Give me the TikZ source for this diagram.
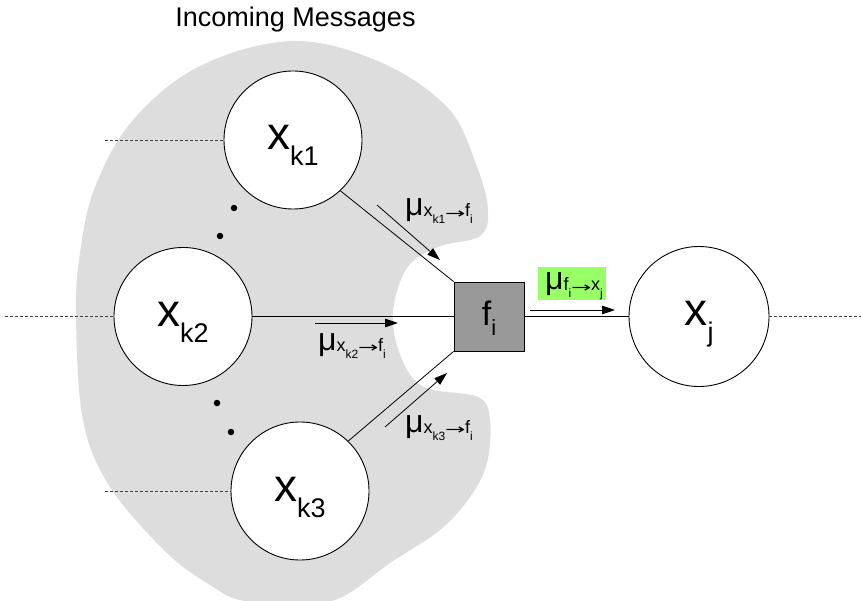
\documentclass[tikz,border=0pt]{standalone}
\usepackage{fontspec}
\setmainfont{Liberation Sans}
\newfontfamily\arrowfont{DejaVu Sans}
\usetikzlibrary{arrows.meta}
\definecolor{blobgray}{RGB}{221,221,221}
\definecolor{factorgray}{RGB}{153,153,153}
\definecolor{msggreen}{RGB}{153,255,102}
% text at a given size in pt
\newcommand\fs[2]{{\fontsize{#1}{#1}\selectfont #2}}
% variable label: large x with a lowered index
\newcommand\varlabel[1]{\fs{46}{x}\raisebox{-16pt}{\fs{27}{#1}}}
% long thin arrow between indices
\newcommand\idxarrow{\kern-0.3pt\raisebox{-2.5pt}{\scalebox{1.35}[0.8]{\fs{18}{\arrowfont →}}}\kern-0.3pt}
% message label: mu with source -> target indices
\newcommand\msglabel[4]{\fs{32}{μ}\raisebox{-1pt}{\fs{18}{#1}}\raisebox{-8pt}{\fs{12}{#2}}\idxarrow\raisebox{-1pt}{\fs{18}{#3}}\raisebox{-8pt}{\fs{12}{#4}}}
\begin{document}
\begin{tikzpicture}[x=1pt,y=-1pt,
  varnode/.style={circle, draw, line width=0.9pt, fill=white, inner sep=0pt, minimum size=138pt},
  factornode/.style={rectangle, draw, line width=0.9pt, fill=factorgray, inner sep=0pt, minimum width=70pt, minimum height=69pt},
  link/.style={line width=0.8pt},
  msgarrow/.style={line width=0.8pt, -{Triangle[length=13pt,width=8.5pt]}},
  extend/.style={black!75, line width=0.8pt, dash pattern=on 3pt off 2pt},
  dotmark/.style={circle, fill=black, inner sep=0pt, minimum size=6.5pt},
  txt/.style={inner sep=0pt}]
\useasboundingbox (0,0) rectangle (861,601);

% shaded region of incoming messages
\fill[blobgray] plot[smooth cycle, tension=0.6] coordinates {
  (293,41) (380,62) (448,108) (477,167) (488,210) (480,236) (438,247)
  (407,268) (393,313) (401,357) (424,387) (478,397) (490,420) (487,463)
  (470,497) (440,530) (390,563) (340,598) (290,606) (240,600) (213,587)
  (167,553) (110,487) (83,420) (76,317) (80,253) (95,187) (133,120) (200,66)};

\node[txt, anchor=base] (title) at (295.5,27) {\fs{27}{Incoming Messages}};

% variable and factor nodes
\node[varnode] (xk1) at (293,140) {};
\node[varnode] (xk2) at (183,316.5) {};
\node[varnode] (xk3) at (300,491) {};
\node[varnode, minimum size=140pt] (xj) at (699,316.5) {};
\node[factornode] (fi) at (489,316.5) {};

% dashed continuations
\coordinate (e1) at (105,140);
\coordinate (e2) at (5,316.5);
\coordinate (e3) at (105,491);
\coordinate (e4) at (861,316.5);
\draw[extend] (e1) -- (xk1.west);
\draw[extend] (e2) -- (xk2.west);
\draw[extend] (e3) -- (xk3.west);
\draw[extend] (xj.east) -- (e4);

% edges
\draw[link] (xk1.-47) -- (fi.north west);
\draw[link] (xk2.east) -- (fi.west);
\draw[link] (xk3.46) -- (fi.south west);
\draw[link] (fi.east) -- (xj.west);

% ellipsis dots
\node[dotmark] (d1) at (234,208) {};
\node[dotmark] (d2) at (220,236) {};
\node[dotmark] (d3) at (217,403) {};
\node[dotmark] (d4) at (231,432) {};

% message arrows
\coordinate (m1a) at (377,205); \coordinate (m1b) at (440,260);
\coordinate (m2a) at (315,323); \coordinate (m2b) at (398,323);
\coordinate (m3a) at (385,427); \coordinate (m3b) at (447,373);
\coordinate (m4a) at (530,310); \coordinate (m4b) at (615,310);
\draw[msgarrow] (m1a) -- (m1b);
\draw[msgarrow] (m2a) -- (m2b);
\draw[msgarrow] (m3a) -- (m3b);
\draw[msgarrow] (m4a) -- (m4b);

% labels
\node[txt, anchor=base] (lk1) at (293,150) {\varlabel{k1}};
\node[txt, anchor=base] (lk2) at (183,326.5) {\varlabel{k2}};
\node[txt, anchor=base] (lk3) at (300,501) {\varlabel{k3}};
\node[txt, anchor=base] (lj) at (699,325) {\varlabel{j}};
\node[txt, anchor=base] (lfi) at (489,325) {\fs{34}{f}\raisebox{-10pt}{\fs{22}{i}}};

\node[txt, anchor=base west] (mu1) at (405,216) {\msglabel{x}{k1}{f}{i}};
\node[txt, anchor=base west] (mu2) at (318,350) {\msglabel{x}{k2}{f}{i}};
\node[txt, anchor=base west] (mu3) at (405,432) {\msglabel{x}{k3}{f}{i}};
\node[txt, anchor=base west, fill=msggreen] (mu4) at (538,290)
  {\hspace*{7pt}\rule[-8pt]{0pt}{31pt}\msglabel{f}{i}{x}{j}\hspace*{3pt}};
\end{tikzpicture}
\end{document}
